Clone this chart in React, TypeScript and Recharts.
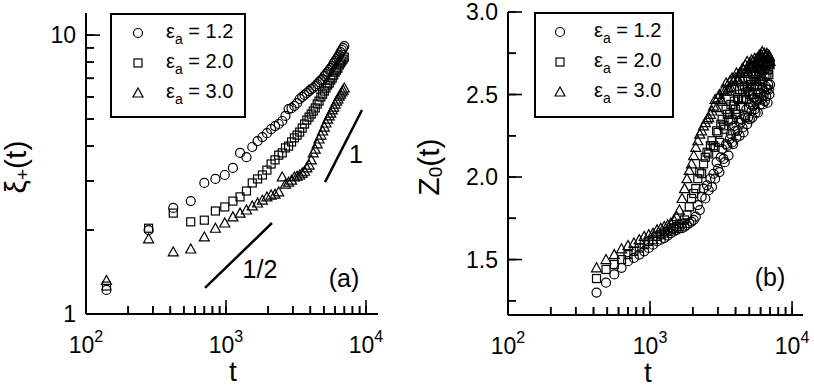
import React from "react";
import { ScatterChart, Scatter, XAxis, YAxis, ReferenceLine } from "recharts";

const FONT = '"Liberation Sans", Arial, Helvetica, sans-serif';

// ---- panel (a): xi_+(t), sampled every 140 steps ----
const tA = [
  140, 280, 420, 560, 700, 840, 980, 1120, 1260, 1400, 1540, 1680, 1820, 1960, 2100, 2240, 2380,
  2520, 2660, 2800, 2940, 3080, 3220, 3360, 3500, 3640, 3780, 3920, 4060, 4200, 4340, 4480, 4620,
  4760, 4900, 5040, 5180, 5320, 5460, 5600, 5740, 5880, 6020, 6160, 6300, 6440, 6580, 6720, 6860,
  7000,
];
const xiCircle = [
  1.22, 2.0, 2.4, 2.54, 2.95, 3.05, 3.15, 3.34, 3.78, 3.65, 3.97, 4.17, 4.31, 4.45, 4.6, 4.72,
  4.8, 4.92, 5.13, 5.43, 5.47, 5.57, 5.7, 5.9, 6.0, 6.1, 6.2, 6.3, 6.4, 6.46, 6.56, 6.67, 6.78,
  6.9, 6.95, 7.13, 7.25, 7.37, 7.49, 7.61, 7.74, 7.94, 8.07, 8.2, 8.34, 8.48, 8.69, 8.84, 8.98,
  9.13,
];
const xiSquare = [
  1.26, 2.03, 2.3, 2.14, 2.17, 2.34, 2.42, 2.54, 2.63, 2.76, 2.95, 3.05, 3.15, 3.28, 3.45, 3.57,
  3.71, 3.78, 3.94, 4.0, 4.14, 4.28, 4.38, 4.49, 4.64, 4.8, 4.96, 5.08, 5.21, 5.34, 5.48, 5.66,
  5.8, 6.0, 6.14, 6.3, 6.46, 6.62, 6.73, 6.9, 7.02, 7.19, 7.37, 7.49, 7.61, 7.81, 7.94, 8.07,
  8.2, 8.34,
];
const xiTriangle = [
  1.32, 1.86, 1.67, 1.71, 1.89, 2.03, 2.12, 2.23, 2.3, 2.36, 2.44, 2.5, 2.56, 2.63, 2.67, 2.69,
  2.74, 3.1, 2.92, 2.97, 3.02, 3.1, 3.12, 3.15, 3.2, 3.25, 3.34, 3.42, 3.57, 3.78, 3.9, 4.07,
  4.24, 4.38, 4.53, 4.68, 4.84, 5.0, 5.13, 5.25, 5.39, 5.52, 5.66, 5.8, 5.9, 6.04, 6.14, 6.25,
  6.35, 6.46,
];

// ---- panel (b): Z_0(t), sampled every 70 steps ----
const tB = [
  420, 490, 560, 630, 700, 770, 840, 910, 980, 1050, 1120, 1190, 1260, 1330, 1400, 1470, 1540,
  1610, 1680, 1750, 1820, 1890, 1960, 2030, 2100, 2170, 2240, 2310, 2380, 2450, 2520, 2590, 2660,
  2730, 2800, 2870, 2940, 3010, 3080, 3150, 3220, 3290, 3360, 3430, 3500, 3570, 3640, 3710, 3780,
  3850, 3920, 3990, 4060, 4130, 4200, 4270, 4340, 4410, 4480, 4550, 4620, 4690, 4760, 4830, 4900,
  4970, 5040, 5110, 5180, 5250, 5320, 5390, 5460, 5530, 5600, 5670, 5740, 5810, 5880, 5950, 6020,
  6090, 6160, 6230, 6300, 6370, 6440, 6510, 6580, 6650, 6720, 6790, 6860, 6930, 7000,
];
const zCircle = [
  1.3, 1.36, 1.41, 1.45, 1.49, 1.51, 1.53, 1.55, 1.57, 1.59, 1.61, 1.62, 1.63, 1.645, 1.66, 1.67,
  1.68, 1.69, 1.69, 1.7, 1.71, 1.72, 1.73, 1.74, 1.76, 1.83, 1.8, 1.88, 1.93, 1.87, 1.95, 1.92,
  1.99, 1.94, 2.02, 1.99, 2.09, 2.05, 2.03, 2.12, 2.17, 2.11, 2.09, 2.2, 2.19, 2.13, 2.23, 2.26,
  2.21, 2.2, 2.31, 2.28, 2.24, 2.28, 2.34, 2.25, 2.33, 2.35, 2.3, 2.27, 2.37, 2.36, 2.41, 2.32,
  2.36, 2.42, 2.35, 2.44, 2.4, 2.36, 2.43, 2.48, 2.41, 2.39, 2.47, 2.46, 2.39, 2.51, 2.48, 2.44,
  2.51, 2.47, 2.54, 2.44, 2.49, 2.52, 2.46, 2.55, 2.49, 2.53, 2.45, 2.56, 2.53, 2.5, 2.56,
];
const zSquare = [
  1.385, 1.44, 1.47, 1.5, 1.53, 1.55, 1.57, 1.59, 1.61, 1.62, 1.64, 1.65, 1.66, 1.67, 1.68, 1.69,
  1.7, 1.71, 1.72, 1.74, 1.77, 1.82, 1.87, 1.9, 1.93, 1.99, 2.03, 2.02, 2.08, 2.12, 2.15, 2.14,
  2.19, 2.22, 2.19, 2.18, 2.28, 2.27, 2.21, 2.32, 2.35, 2.31, 2.29, 2.41, 2.38, 2.34, 2.38, 2.44,
  2.35, 2.43, 2.46, 2.41, 2.38, 2.48, 2.47, 2.53, 2.43, 2.47, 2.53, 2.47, 2.55, 2.51, 2.47, 2.54,
  2.59, 2.52, 2.5, 2.58, 2.56, 2.5, 2.62, 2.59, 2.55, 2.62, 2.58, 2.66, 2.55, 2.61, 2.64, 2.58,
  2.67, 2.61, 2.65, 2.58, 2.68, 2.65, 2.61, 2.68, 2.67, 2.62, 2.7, 2.65, 2.62, 2.69, 2.68,
];
const zTriangle = [
  1.45, 1.5, 1.53, 1.565, 1.585, 1.6, 1.62, 1.64, 1.65, 1.66, 1.68, 1.69, 1.7, 1.71, 1.72, 1.74,
  1.76, 1.8, 1.87, 1.93, 1.99, 2.04, 2.08, 2.13, 2.18, 2.22, 2.26, 2.28, 2.31, 2.33, 2.35, 2.36,
  2.38, 2.4, 2.43, 2.47, 2.42, 2.48, 2.5, 2.47, 2.46, 2.53, 2.52, 2.57, 2.52, 2.54, 2.58, 2.54,
  2.6, 2.58, 2.55, 2.6, 2.63, 2.59, 2.59, 2.63, 2.63, 2.59, 2.66, 2.65, 2.63, 2.68, 2.65, 2.7,
  2.64, 2.67, 2.69, 2.66, 2.71, 2.67, 2.7, 2.66, 2.72, 2.7, 2.68, 2.72, 2.72, 2.69, 2.74, 2.72,
  2.69, 2.74, 2.76, 2.72, 2.7, 2.75, 2.73, 2.69, 2.74, 2.75, 2.72, 2.7, 2.74, 2.73, 2.7,
];

const legendLabels = ["1.2", "2.0", "3.0"];
const xTicks = [100, 200, 300, 400, 500, 600, 700, 800, 900, 1000, 2000, 3000, 4000, 5000, 6000, 7000, 8000, 9000, 10000];
const xMajor = [100, 1000, 10000];
const xiTicks = [1, 2, 3, 4, 5, 6, 7, 8, 9, 10];
const xiMajor = [1, 10];
const zTicks = [1.25, 1.5, 1.75, 2.0, 2.25, 2.5, 2.75, 3.0];
const zMajor = [1.5, 2.0, 2.5, 3.0];

// plot boxes and axis ranges of the two panels (pixels / data)
const boxA = { left: 86, right: 378, top: 13, bottom: 314 };
const boxB = { left: 508, right: 803, top: 12, bottom: 315 };
const xDomA: [number, number] = [100, 12180];
const yDomA: [number, number] = [1, 12];
const xDomB: [number, number] = [100, 11940];
const yDomB: [number, number] = [1.164, 3.0];

const toPoints = (ts: number[], vs: number[]) => ts.map((t, i) => ({ t, v: vs[i] }));

const CircleMark = (p: any) => (
  <circle cx={p.cx} cy={p.cy} r={4.5} fill="none" stroke="#000" strokeWidth={1.2} />
);
const SquareMark = (p: any) => (
  <rect x={p.cx - 4} y={p.cy - 4} width={8} height={8} fill="none" stroke="#000" strokeWidth={1.2} />
);
const TriangleMark = (p: any) => (
  <polygon
    points={`${p.cx - 5},${p.cy + 4} ${p.cx + 5},${p.cy + 4} ${p.cx},${p.cy - 5}`}
    fill="none"
    stroke="#000"
    strokeWidth={1.2}
  />
);
const marks = [CircleMark, SquareMark, TriangleMark];

const frame = { stroke: "#000", strokeWidth: 2 };
const tickStroke = { stroke: "#000", strokeWidth: 1.6 };

function LogXLabel(props: any) {
  const { x, y, payload } = props;
  const val = payload.value;
  if (!xMajor.includes(val)) return <g />;
  const exp = Math.round(Math.log10(val));
  return (
    <text x={x} y={y + 39} textAnchor="middle" fontSize={23} fontFamily={FONT} fill="#000">
      10
      <tspan dy={-11} fontSize={16}>
        {exp}
      </tspan>
    </text>
  );
}

function YLabel(props: any) {
  const { x, y, payload, majors, digits } = props;
  const val = payload.value;
  if (!majors.includes(val)) return <g />;
  return (
    <text x={x - 10} y={y + 8} textAnchor="end" fontSize={23} fontFamily={FONT} fill="#000">
      {digits ? val.toFixed(digits) : String(val)}
    </text>
  );
}

function LegendBox({ x, y, width, height, markX, textX }: any) {
  return (
    <g transform={`translate(${x},${y})`}>
      <rect x={1} y={1} width={width - 2} height={height - 2} fill="#fff" stroke="#000" strokeWidth={2} />
      {legendLabels.map((lab, i) => {
        const Mark = marks[i];
        const cy = 20 + i * 30;
        return (
          <g key={lab}>
            <Mark cx={markX} cy={cy} />
            <text x={textX} y={cy + 5} fontSize={20} fontFamily={FONT} fill="#000">
              ε
              <tspan dy={6} fontSize={14}>a</tspan>
              <tspan dy={-6}>{" = " + lab}</tspan>
            </text>
          </g>
        );
      })}
    </g>
  );
}

function YTitle({ cx, cy, main, sub }: any) {
  return (
    <text
      x={cx}
      y={cy}
      transform={`rotate(-90 ${cx} ${cy})`}
      textAnchor="middle"
      dominantBaseline="central"
      fontSize={30}
      fill="#000"
    >
      {main}
      <tspan dy={7} fontSize={19}>{sub}</tspan>
      <tspan dy={-7}>(t)</tspan>
    </text>
  );
}

// inward tick marks of one panel, placed with the same log / linear mapping as the chart axes
function TickMarks({ box, xDom, yDom, yLog, yT, yM }: any) {
  const lx0 = Math.log10(xDom[0]);
  const lx1 = Math.log10(xDom[1]);
  const px = (v: number) => box.left + ((Math.log10(v) - lx0) / (lx1 - lx0)) * (box.right - box.left);
  const f = (v: number) => (yLog ? Math.log10(v) : v);
  const py = (v: number) => box.bottom - ((f(v) - f(yDom[0])) / (f(yDom[1]) - f(yDom[0]))) * (box.bottom - box.top);
  return (
    <g stroke="#000" strokeWidth={1.6}>
      {xTicks.map((v) => (
        <line key={`x${v}`} x1={px(v)} x2={px(v)} y1={box.bottom} y2={box.bottom - (xMajor.includes(v) ? 14 : 8)} />
      ))}
      {yT.map((v: number) => (
        <line key={`y${v}`} x1={box.left} x2={box.left + (yM.includes(v) ? 14 : 8)} y1={py(v)} y2={py(v)} />
      ))}
    </g>
  );
}

export default function App() {
  const aSets = [xiCircle, xiSquare, xiTriangle].map((vs) => toPoints(tA, vs));
  const bSets = [zCircle, zSquare, zTriangle].map((vs) => toPoints(tB, vs));

  return (
    <div style={{ position: "absolute", left: 0, top: 0, width: 814, height: 387, background: "#fff" }}>
      {/* text and tick layer underneath the (transparent) chart surfaces */}
      <svg width={814} height={387} style={{ position: "absolute", left: 0, top: 0 }} fontFamily={FONT}>
        <TickMarks box={boxA} xDom={xDomA} yDom={yDomA} yLog yT={xiTicks} yM={xiMajor} />
        <TickMarks box={boxB} xDom={xDomB} yDom={yDomB} yLog={false} yT={zTicks} yM={zMajor} />
        <LegendBox x={110} y={13} width={136} height={105} markX={28} textX={56} />
        <LegendBox x={534} y={12} width={140} height={106} markX={26} textX={60} />
        <text x={233} y={381} textAnchor="middle" fontSize={28}>t</text>
        <text x={648} y={382} textAnchor="middle" fontSize={28}>t</text>
        <YTitle cx={15} cy={167} main="ξ" sub="+" />
        <YTitle cx={428} cy={167} main="Z" sub="0" />
        <text x={260} y={278} textAnchor="middle" fontSize={25}>1/2</text>
        <text x={356} y={163} textAnchor="middle" fontSize={25}>1</text>
        <text x={344} y={287} textAnchor="middle" fontSize={25}>(a)</text>
        <text x={770} y={286} textAnchor="middle" fontSize={25}>(b)</text>
      </svg>
      <div style={{ position: "absolute", left: 0, top: 0 }}>
        <ScatterChart width={407} height={387} margin={{ top: 13, right: 29, bottom: 0, left: 0 }}>
          <XAxis
            dataKey="t"
            type="number"
            scale="log"
            domain={xDomA}
            allowDataOverflow
            ticks={xTicks}
            interval={0}
            tick={<LogXLabel />}
            tickLine={tickStroke}
            tickSize={-8}
            tickMargin={8}
            axisLine={frame}
            height={73}
          />
          <XAxis xAxisId="top" orientation="top" type="number" scale="log" domain={xDomA}
            allowDataOverflow tick={false} tickLine={false} axisLine={frame} height={0} />
          <YAxis
            dataKey="v"
            type="number"
            scale="log"
            domain={yDomA}
            allowDataOverflow
            ticks={xiTicks}
            interval={0}
            tick={<YLabel majors={xiMajor} digits={0} />}
            tickLine={tickStroke}
            tickSize={-8}
            tickMargin={8}
            axisLine={frame}
            width={86}
          />
          <YAxis yAxisId="right" orientation="right" type="number" scale="log" domain={yDomA}
            allowDataOverflow tick={false} tickLine={false} axisLine={frame} width={0} />
          <ReferenceLine segment={[{ x: 708, y: 1.24 }, { x: 2130, y: 2.12 }]} stroke="#000" strokeWidth={2.5} />
          <ReferenceLine segment={[{ x: 5100, y: 2.97 }, { x: 9360, y: 5.39 }]} stroke="#000" strokeWidth={2.5} />
          {aSets.map((pts, i) => (
            <Scatter key={i} data={pts} shape={marks[i]} isAnimationActive={false} />
          ))}
        </ScatterChart>
      </div>
      <div style={{ position: "absolute", left: 407, top: 0 }}>
        <ScatterChart width={407} height={387} margin={{ top: 12, right: 11, bottom: 0, left: 0 }}>
          <XAxis
            dataKey="t"
            type="number"
            scale="log"
            domain={xDomB}
            allowDataOverflow
            ticks={xTicks}
            interval={0}
            tick={<LogXLabel />}
            tickLine={tickStroke}
            tickSize={-8}
            tickMargin={8}
            axisLine={frame}
            height={72}
          />
          <XAxis xAxisId="top" orientation="top" type="number" scale="log" domain={xDomB}
            allowDataOverflow tick={false} tickLine={false} axisLine={frame} height={0} />
          <YAxis
            dataKey="v"
            type="number"
            domain={yDomB}
            allowDataOverflow
            ticks={zTicks}
            interval={0}
            tick={<YLabel majors={zMajor} digits={1} />}
            tickLine={tickStroke}
            tickSize={-8}
            tickMargin={8}
            axisLine={frame}
            width={101}
          />
          <YAxis yAxisId="right" orientation="right" type="number" domain={yDomB}
            allowDataOverflow tick={false} tickLine={false} axisLine={frame} width={0} />
          {bSets.map((pts, i) => (
            <Scatter key={i} data={pts} shape={marks[i]} isAnimationActive={false} />
          ))}
        </ScatterChart>
      </div>
    </div>
  );
}
